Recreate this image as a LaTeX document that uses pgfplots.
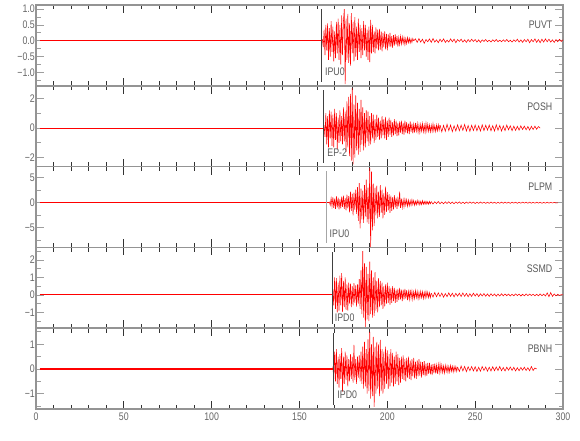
\documentclass[border=0pt]{standalone}
\usepackage{pgfplots}
\pgfplotsset{compat=1.18}
\usepackage{fontspec}
\setmainfont{Liberation Sans}[FakeStretch=0.8]
\tikzset{lab/.style={font=\fontsize{11}{13}\selectfont, text=black!65, inner sep=0pt}}
\pgfplotsset{
 panel/.style={
  scale only axis, width=527pt, height=80.8pt,
  xmin=0, xmax=300,
  xtick={0,50,100,150,200,250,300},
  minor xtick={10,20,30,40,60,70,80,90,110,120,130,140,160,170,180,190,210,220,230,240,260,270,280,290},
  xticklabels={},
  tick align=inside,
  major tick length=8pt, minor tick length=4.5pt,
  axis line style={draw=black!42, line width=1.6pt},
  every x tick/.style={draw=black!80, line width=0.7pt},
  every y tick/.style={draw=black!38, line width=0.9pt},
  tick label style={font=\fontsize{11}{13}\selectfont, text=black!60},
  yticklabel style={inner xsep=1pt},
  clip=true,
 },
 trace/.style={color=red, line width=0.55pt},
 pre/.style={color=red, line width=0.9pt},
 pick/.style={black!75, line width=0.5pt},
}
\begin{document}
\begin{tikzpicture}
\path[use as bounding box] (0,0) rectangle (580pt,440pt);
% ---------- PUVT
\begin{axis}[panel, at={(36pt,354.2pt)}, anchor=south west,
  ymin=-1.42, ymax=1.13,
  ytick={-1,-0.5,0,0.5,1}, yticklabels={−1.0,−0.5,0.0,0.5,1.0},
  minor ytick={-1.25,-0.75,-0.25,0.25,0.75}]
\addplot[pre] coordinates {(2,0)(163,0)};
\addplot[trace] table[header=false,row sep=\\,x expr=163+0.5*\coordindex,y index=0]{
0.05\\-0.2\\0.35\\-0.45\\0.5\\-0.3\\0.55\\-0.6\\0.4\\-0.5\\
0.62\\-0.35\\0.45\\-0.65\\0.3\\-0.55\\0.6\\-0.4\\0.7\\-0.6\\
0.5\\-0.75\\0.8\\-0.45\\0.6\\1.0\\-1.37\\0.7\\-0.6\\0.85\\
-0.7\\0.55\\-0.78\\0.87\\-0.4\\0.6\\-0.65\\0.75\\-0.5\\0.45\\
-0.6\\0.7\\-0.35\\0.5\\-0.55\\0.4\\-0.45\\0.62\\-0.3\\0.5\\
-0.5\\0.35\\-0.6\\0.45\\-0.67\\0.66\\-0.4\\0.5\\-0.35\\0.3\\
-0.4\\0.42\\-0.25\\0.35\\-0.3\\0.38\\-0.28\\0.3\\-0.33\\0.25\\
-0.2\\0.3\\-0.27\\0.22\\-0.3\\0.2\\-0.18\\0.25\\-0.2\\0.15\\
-0.22\\0.18\\-0.15\\0.2\\-0.12\\0.15\\-0.18\\0.1\\-0.12\\0.14\\
-0.1\\0.12\\-0.08\\0.1\\-0.12\\0.07\\-0.09\\0.1\\-0.06\\0.08\\
-0.07\\0.06\\-0.05\\0.07\\0.0\\
};
\addplot[trace] table[header=false,row sep=\\,x expr=215+\coordindex,y index=0]{
0.0\\0.06\\-0.05\\0.07\\-0.04\\0.05\\-0.08\\0.04\\-0.03\\0.06\\
-0.05\\0.07\\-0.04\\0.03\\-0.06\\0.05\\-0.03\\0.06\\-0.05\\0.02\\
-0.04\\0.06\\-0.03\\0.05\\-0.06\\0.04\\-0.02\\0.05\\-0.04\\0.03\\
-0.05\\0.04\\-0.03\\0.05\\-0.02\\0.04\\-0.04\\0.03\\-0.05\\0.03\\
-0.02\\0.04\\-0.03\\0.02\\-0.04\\0.03\\-0.02\\0.04\\-0.03\\0.02\\
-0.03\\0.03\\-0.02\\0.04\\-0.03\\0.02\\-0.04\\0.03\\-0.02\\0.05\\
-0.04\\0.03\\-0.05\\0.04\\-0.03\\0.05\\-0.06\\0.04\\-0.03\\0.06\\
-0.05\\0.04\\-0.06\\0.05\\-0.04\\0.06\\-0.03\\0.05\\-0.04\\0.03\\
-0.05\\0.04\\-0.03\\0.05\\-0.02\\0.03\\
};
\addplot[pick] coordinates {(162.4,1.0)(162.4,-1.3)};
\node[lab, anchor=west] at (axis cs:164.5,-0.96) {IPU0};
\node[lab, anchor=east] at (axis cs:294,0.52) {PUVT};
\end{axis}
% ---------- POSH
\begin{axis}[panel, at={(36pt,273.4pt)}, anchor=south west,
  ymin=-2.6, ymax=2.85,
  ytick={-2,0,2}, yticklabels={−2,0,2}, minor ytick={-1,1}]
\addplot[pre, line width=1.1pt] coordinates {(2,0)(164,0)};
\addplot[trace] table[header=false,row sep=\\,x expr=164+0.5*\coordindex,y index=0]{
0.2\\-0.6\\1.0\\-1.1\\0.8\\-1.3\\1.2\\-0.7\\1.1\\-1.2\\
0.9\\-1.3\\1.3\\-0.8\\1.0\\-1.4\\0.7\\-1.0\\1.2\\-0.9\\
0.8\\-1.1\\1.4\\-0.9\\1.1\\-1.6\\1.8\\-1.3\\2.1\\-1.9\\
2.3\\-2.2\\2.7\\-2.45\\1.6\\-2.0\\2.2\\-1.5\\1.7\\-1.8\\
1.3\\-1.6\\1.9\\-1.1\\1.4\\-1.5\\1.0\\-1.3\\1.2\\-0.9\\
1.1\\-1.2\\0.8\\-1.1\\1.0\\-0.7\\0.9\\-1.0\\0.6\\-0.8\\
0.9\\-0.6\\0.7\\-0.8\\0.5\\-0.7\\0.8\\-0.5\\0.6\\-0.7\\
0.75\\-0.8\\0.5\\-0.6\\0.7\\-0.45\\0.55\\-0.6\\0.4\\-0.5\\
0.6\\-0.4\\0.5\\-0.55\\0.35\\-0.5\\0.45\\-0.3\\0.5\\-0.4\\
0.35\\-0.45\\0.5\\-0.3\\0.4\\-0.35\\0.3\\-0.4\\0.45\\-0.25\\
0.3\\-0.35\\0.25\\-0.3\\0.35\\-0.2\\0.3\\-0.28\\0.22\\-0.3\\
0.25\\-0.2\\0.3\\-0.25\\0.2\\-0.28\\0.32\\-0.2\\0.25\\-0.22\\
0.2\\-0.25\\0.18\\-0.22\\0.28\\-0.2\\0.15\\-0.23\\0.2\\-0.18\\
0.22\\-0.15\\0.2\\
};
\addplot[trace] table[header=false,row sep=\\,x expr=230+\coordindex,y index=0]{
0.2\\-0.25\\0.18\\-0.22\\0.25\\-0.17\\0.2\\-0.24\\0.15\\-0.2\\
0.22\\-0.18\\0.2\\-0.15\\0.24\\-0.2\\0.17\\-0.22\\0.19\\-0.16\\
0.2\\-0.18\\0.15\\-0.2\\0.22\\-0.17\\0.19\\-0.14\\0.2\\-0.18\\
0.16\\-0.2\\0.22\\-0.15\\0.18\\-0.2\\0.14\\-0.17\\0.2\\-0.12\\
0.15\\-0.18\\0.13\\-0.16\\0.12\\-0.14\\0.15\\-0.1\\0.13\\-0.12\\
0.1\\-0.14\\0.12\\-0.1\\0.13\\-0.08\\0.1\\0.0\\
};
\addplot[pick] coordinates {(163.3,2.55)(163.3,-2.36)};
\node[lab, anchor=west] at (axis cs:165.8,-1.66) {EP-2};
\node[lab, anchor=east] at (axis cs:294,1.47) {POSH};
\end{axis}
% ---------- PLPM
\begin{axis}[panel, at={(36pt,192.6pt)}, anchor=south west,
  ymin=-8.9, ymax=7.2,
  ytick={-5,0,5}, yticklabels={−5,0,5}, minor ytick={-7.5,-2.5,2.5}]
\addplot[pre] coordinates {(2,0)(167,0)};
\addplot[trace] table[header=false,row sep=\\,x expr=167+0.5*\coordindex,y index=0]{
0.2\\-0.5\\0.9\\-0.7\\1.1\\-1.0\\0.8\\-1.2\\1.3\\-0.9\\
1.0\\-1.3\\0.7\\-1.1\\1.2\\-0.8\\1.4\\-1.2\\0.9\\-1.5\\
1.6\\-1.1\\1.3\\-1.9\\2.2\\-1.6\\1.8\\-2.5\\2.0\\-1.4\\
2.6\\-2.2\\3.1\\-3.6\\3.9\\-5.1\\2.8\\-3.3\\2.4\\-4.0\\
3.5\\-2.7\\4.6\\-3.9\\3.0\\-4.2\\6.9\\-8.8\\6.2\\-5.5\\
3.8\\-4.6\\3.0\\-2.5\\3.4\\-3.1\\2.2\\-2.8\\3.5\\-2.0\\
2.6\\-3.1\\1.9\\-2.4\\3.2\\-1.8\\2.1\\-1.5\\1.7\\-2.0\\
1.4\\-1.6\\1.1\\-1.3\\1.5\\-0.9\\1.0\\-1.2\\0.8\\-0.7\\
2.2\\-1.0\\0.8\\-0.9\\0.6\\-0.8\\0.7\\-0.5\\0.6\\-0.7\\
0.5\\-0.6\\0.4\\-0.5\\0.6\\-0.35\\0.45\\-0.5\\0.3\\-0.4\\
0.45\\-0.3\\0.35\\-0.4\\0.25\\-0.35\\0.4\\-0.3\\0.25\\-0.3\\
0.3\\-0.25\\0.2\\-0.3\\0.25\\-0.2\\0.22\\
};
\addplot[trace] table[header=false,row sep=\\,x expr=225+\coordindex,y index=0]{
0.22\\-0.25\\0.2\\-0.18\\0.24\\-0.2\\0.15\\-0.22\\0.18\\-0.15\\
0.2\\-0.17\\0.14\\-0.2\\0.16\\-0.13\\0.18\\-0.15\\0.12\\-0.16\\
0.14\\-0.12\\0.16\\-0.1\\0.13\\-0.15\\0.11\\-0.12\\0.14\\-0.1\\
0.12\\-0.13\\0.1\\-0.12\\0.14\\-0.1\\0.11\\-0.13\\0.09\\-0.11\\
0.12\\-0.1\\0.13\\-0.09\\0.1\\-0.12\\0.11\\-0.08\\0.1\\-0.11\\
0.09\\-0.1\\0.12\\-0.08\\0.1\\-0.09\\0.11\\-0.1\\0.08\\-0.09\\
0.1\\-0.08\\0.09\\-0.1\\0.07\\-0.09\\0.1\\-0.07\\0.08\\-0.06\\
0.07\\-0.05\\0.0\\
};
\addplot[pick, black!35, line width=0.9pt] coordinates {(165.2,6.3)(165.2,-8.1)};
\node[lab, anchor=west] at (axis cs:167.1,-6.1) {IPU0};
\node[lab, anchor=east] at (axis cs:294,3.2) {PLPM};
\end{axis}
% ---------- SSMD
\begin{axis}[panel, at={(36pt,111.8pt)}, anchor=south west,
  ymin=-1.9, ymax=2.72,
  ytick={-1,0,1,2}, yticklabels={−1,0,1,2}, minor ytick={-1.5,-0.5,0.5,1.5,2.5}]
\addplot[pre, line width=1.2pt] coordinates {(2,0.01)(169,0.01)};
\addplot[trace] table[header=false,row sep=\\,x expr=169+0.5*\coordindex,y index=0]{
0.3\\-0.6\\1.0\\-0.8\\0.96\\-1.0\\0.7\\-0.9\\1.1\\-0.6\\
1.25\\-0.96\\0.8\\-0.7\\1.0\\-0.85\\0.6\\-0.9\\0.7\\-0.5\\
0.65\\-0.7\\0.5\\-0.6\\0.67\\-0.45\\0.55\\-0.67\\0.6\\-0.5\\
0.9\\-0.8\\1.4\\-1.1\\2.5\\-1.3\\1.8\\-1.83\\1.6\\-1.4\\
1.2\\-1.5\\1.9\\-1.1\\1.4\\-1.3\\1.0\\-1.2\\1.3\\-0.9\\
0.8\\-1.0\\0.96\\-0.7\\0.8\\-0.6\\0.7\\-0.8\\0.5\\-0.65\\
0.6\\-0.5\\0.7\\-0.45\\0.5\\-0.55\\0.4\\-0.45\\0.5\\-0.35\\
0.4\\-0.45\\0.3\\-0.4\\0.35\\-0.3\\0.4\\-0.25\\0.3\\-0.35\\
0.3\\-0.25\\0.35\\-0.2\\0.28\\-0.3\\0.2\\-0.25\\0.3\\-0.18\\
0.22\\-0.25\\0.18\\-0.2\\0.25\\-0.15\\0.2\\-0.22\\0.15\\-0.18\\
0.2\\-0.15\\0.18\\-0.2\\0.14\\-0.17\\0.2\\-0.12\\0.16\\-0.15\\
0.12\\-0.15\\0.1\\
};
\addplot[trace] table[header=false,row sep=\\,x expr=225+\coordindex,y index=0]{
0.1\\-0.12\\0.14\\-0.1\\0.12\\-0.09\\0.11\\-0.13\\0.08\\-0.1\\
0.12\\-0.08\\0.1\\-0.11\\0.09\\-0.07\\0.1\\-0.09\\0.12\\-0.08\\
0.09\\-0.1\\0.07\\-0.08\\0.1\\-0.06\\0.08\\-0.09\\0.07\\-0.06\\
0.08\\-0.07\\0.06\\-0.08\\0.07\\-0.05\\0.06\\-0.07\\0.05\\-0.06\\
0.07\\-0.05\\0.06\\-0.04\\0.05\\-0.06\\0.04\\-0.05\\0.06\\-0.04\\
0.05\\-0.06\\0.04\\-0.05\\0.06\\-0.04\\0.05\\-0.03\\0.04\\-0.05\\
0.04\\-0.05\\0.06\\-0.04\\0.05\\-0.06\\0.12\\-0.1\\0.14\\-0.08\\
0.06\\-0.05\\0.04\\-0.03\\0.02\\0.0\\
};
\addplot[pick] coordinates {(168.5,2.45)(168.5,-1.68)};
\node[lab, anchor=west] at (axis cs:170,-1.29) {IPD0};
\node[lab, anchor=east] at (axis cs:294,1.53) {SSMD};
\end{axis}
% ---------- PBNH
\begin{axis}[panel, at={(36pt,31pt)}, anchor=south west,
  ymin=-1.62, ymax=1.65,
  ytick={-1,0,1}, yticklabels={−1,0,1}, minor ytick={-1.5,-0.5,0.5,1.5},
  xticklabels={0,50,100,150,200,250,300}]
\addplot[pre, line width=1.5pt] coordinates {(2,0)(169,0)};
\addplot[trace] table[header=false,row sep=\\,x expr=169+0.5*\coordindex,y index=0]{
0.1\\-0.4\\0.7\\-0.5\\0.8\\-0.6\\0.5\\-0.75\\0.6\\-0.4\\
0.84\\-0.92\\0.5\\-0.6\\0.7\\-0.45\\0.55\\-0.7\\0.4\\-0.5\\
0.6\\-0.4\\0.5\\-0.55\\0.97\\-0.45\\0.4\\-0.6\\0.5\\-0.35\\
0.55\\-0.5\\0.7\\-0.6\\0.9\\-0.8\\1.1\\-0.7\\0.8\\-1.0\\
1.2\\-0.9\\1.5\\-1.2\\1.0\\-1.1\\1.3\\-1.53\\0.9\\-1.0\\
1.1\\-0.8\\1.0\\-1.1\\1.18\\-0.9\\0.8\\-1.0\\0.7\\-0.8\\
0.9\\-0.6\\0.75\\-0.8\\0.6\\-0.7\\0.8\\-0.55\\0.65\\-0.7\\
0.5\\-0.6\\0.7\\-0.5\\0.6\\-0.65\\0.45\\-0.55\\0.5\\-0.4\\
0.55\\-0.45\\0.4\\-0.5\\0.45\\-0.35\\0.5\\-0.4\\0.35\\-0.45\\
0.4\\-0.3\\0.45\\-0.38\\0.3\\-0.4\\0.35\\-0.3\\0.4\\-0.28\\
0.3\\-0.35\\0.28\\-0.25\\0.32\\-0.3\\0.22\\-0.28\\0.25\\-0.2\\
0.25\\-0.22\\0.18\\-0.25\\0.2\\-0.17\\0.22\\-0.18\\0.15\\-0.2\\
0.18\\-0.15\\0.2\\-0.12\\0.16\\-0.14\\0.12\\-0.16\\0.14\\-0.1\\
0.12\\-0.14\\0.1\\-0.12\\0.14\\-0.09\\0.11\\-0.12\\0.1\\-0.08\\
0.1\\-0.1\\0.08\\
};
\addplot[trace] table[header=false,row sep=\\,x expr=240+\coordindex,y index=0]{
0.08\\-0.1\\0.12\\-0.08\\0.1\\-0.11\\0.09\\-0.07\\0.1\\-0.08\\
0.09\\-0.1\\0.07\\-0.09\\0.1\\-0.06\\0.08\\-0.09\\0.07\\-0.08\\
0.09\\-0.07\\0.08\\-0.06\\0.1\\-0.07\\0.06\\-0.08\\0.07\\-0.05\\
0.08\\-0.06\\0.07\\-0.08\\0.05\\-0.07\\0.06\\-0.05\\0.07\\-0.06\\
0.05\\-0.07\\0.1\\-0.06\\0.04\\0.0\\
};
\addplot[pick] coordinates {(169.1,1.45)(169.1,-1.46)};
\node[lab, anchor=west] at (axis cs:171.5,-1.05) {IPD0};
\node[lab, anchor=east] at (axis cs:294,0.81) {PBNH};
\end{axis}
\end{tikzpicture}
\end{document}
